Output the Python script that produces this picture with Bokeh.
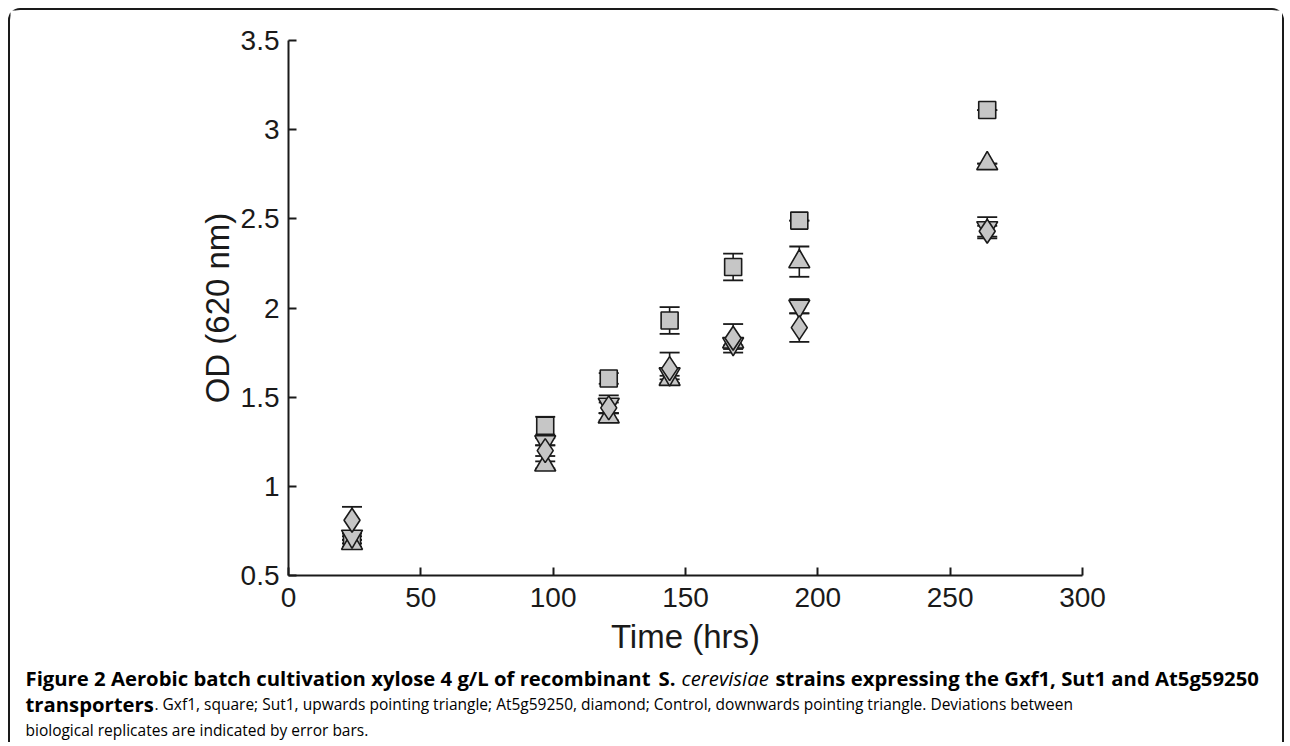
from bokeh.plotting import figure
from bokeh.models import (Range1d, FixedTicker, CustomJSTickFormatter, Whisker,
                          TeeHead, ColumnDataSource, Label)
from bokeh.embed import file_html
from bokeh.resources import INLINE

# ---------------- data ----------------
time_hrs = [24, 97, 121, 144, 168, 193, 264]

gxf1 = [0.70, 1.34, 1.605, 1.93, 2.23, 2.49, 3.11]
gxf1_err = [0.02, 0.05, 0.03, 0.075, 0.075, 0.0, 0.0]

sut1 = [0.68, 1.12, 1.39, 1.60, 1.81, 2.26, 2.81]
sut1_err = [0.02, 0.02, 0.02, 0.02, 0.02, 0.085, 0.0]

at5g59250 = [0.81, 1.20, 1.44, 1.66, 1.83, 1.89, 2.43]
at5g59250_err = [0.075, 0.03, 0.03, 0.09, 0.08, 0.08, 0.03]

control = [0.72, 1.25, 1.46, 1.63, 1.80, 2.01, 2.45]
control_err = [0.02, 0.02, 0.05, 0.03, 0.03, 0.04, 0.06]

x_ticks = [0, 50, 100, 150, 200, 250, 300]
y_ticks = [0.5, 1, 1.5, 2, 2.5, 3, 3.5]

x_title = "Time (hrs)"
y_title = "OD (620 nm)"

X0, X1 = 0, 300
Y0, Y1 = 0.5, 3.5

INK = "#1a1a1a"
FILL = "#c6c6c6"

# canvas size and where the axes box sits inside it (pixels)
W, H = 1276, 734
FL, FT, FR, FB = 278, 30, 1072, 565
OFF = 10  # canvas origin on the page (8px margin + 2px border)

kx = (X1 - X0) / (FR - FL)
ky = (Y1 - Y0) / (FB - FT)

p = figure(width=W, height=H, output_backend="svg", toolbar_location=None,
           x_range=Range1d(X0 - FL * kx, X1 + (W - FR) * kx),
           y_range=Range1d(Y0 - (H - FB) * ky, Y1 + FT * ky),
           min_border=0,
           background_fill_color="white", border_fill_color="white")
p.outline_line_color = None
p.grid.visible = False
p.styles = {"margin-left": "8px", "margin-top": "8px",
            "border": "2px solid #1a1a1a", "border-bottom": "none",
            "border-radius": "12px 12px 0 0"}

xa, ya = p.xaxis[0], p.yaxis[0]
xa.fixed_location = Y0
ya.fixed_location = X0
xa.bounds = (X0, X1)
ya.bounds = (Y0, Y1)

for ax in (xa, ya):
    ax.axis_line_color = INK
    ax.axis_line_width = 2
    ax.major_tick_line_color = INK
    ax.major_tick_line_width = 2
    ax.major_tick_in = 8
    ax.major_tick_out = 0
    ax.minor_tick_line_color = None
    ax.major_label_text_font = "Liberation Sans"
    ax.major_label_text_font_size = "28px"
    ax.major_label_text_color = INK
    ax.axis_label_text_font = "Liberation Sans"
    ax.axis_label_text_font_size = "33px"
    ax.axis_label_text_font_style = "normal"
    ax.axis_label_text_color = INK

xa.ticker = FixedTicker(ticks=x_ticks)
ya.ticker = FixedTicker(ticks=y_ticks)
xa.formatter = CustomJSTickFormatter(code="return String(tick)")
ya.formatter = CustomJSTickFormatter(code="return String(tick)")
xa.major_label_standoff = 12
ya.major_label_standoff = 9
xa.axis_label = x_title
ya.axis_label = y_title
xa.axis_label_standoff = 8
ya.axis_label_standoff = 2

series = [
    (gxf1, gxf1_err, "square", 17),
    (sut1, sut1_err, "triangle", 21),
    (control, control_err, "inverted_triangle", 21),
    (at5g59250, at5g59250_err, "diamond", 24),
]

for vals, errs, marker, size in series:
    src = ColumnDataSource(dict(
        t=time_hrs, v=vals,
        lo=[v - e for v, e in zip(vals, errs)],
        hi=[v + e for v, e in zip(vals, errs)],
    ))
    wk = Whisker(base="t", lower="lo", upper="hi", source=src,
                 line_color=INK, line_width=1.6,
                 upper_head=TeeHead(size=20, line_color=INK, line_width=1.8),
                 lower_head=TeeHead(size=20, line_color=INK, line_width=1.8))
    p.add_layout(wk)

for vals, errs, marker, size in series:
    p.scatter(time_hrs, vals, marker=marker, size=size,
              fill_color=FILL, line_color=INK, line_width=1.6)

# ---------------- caption (page pixel positions) ----------------
CAP_FONT = "Open Sans"
BOLD, REG = "20.3px", "15.5px"
caption = [
    ("Figure 2 Aerobic batch cultivation xylose 4 g/L of recombinant", 25, 677, "bold", BOLD),
    ("S.", 658, 677, "bold", BOLD),
    ("cerevisiae", 681, 677, "italic", BOLD),
    ("strains expressing the Gxf1, Sut1 and At5g59250", 775, 677, "bold", BOLD),
    ("transporters", 25, 703, "bold", BOLD),
    (". Gxf1, square; Sut1, upwards pointing triangle; At5g59250, diamond; "
     "Control, downwards pointing triangle. Deviations between", 154, 703, "normal", REG),
    ("biological replicates are indicated by error bars.", 25, 729, "normal", REG),
]
for text, px, py, style, fs in caption:
    p.add_layout(Label(x=px - OFF, y=H - (py - OFF), x_units="screen", y_units="screen",
                       text=text, text_font=CAP_FONT, text_font_style=style,
                       text_font_size=fs, text_color="#000000",
                       text_baseline="middle", text_align="left"))

open("out.html", "w").write(file_html(p, INLINE))
